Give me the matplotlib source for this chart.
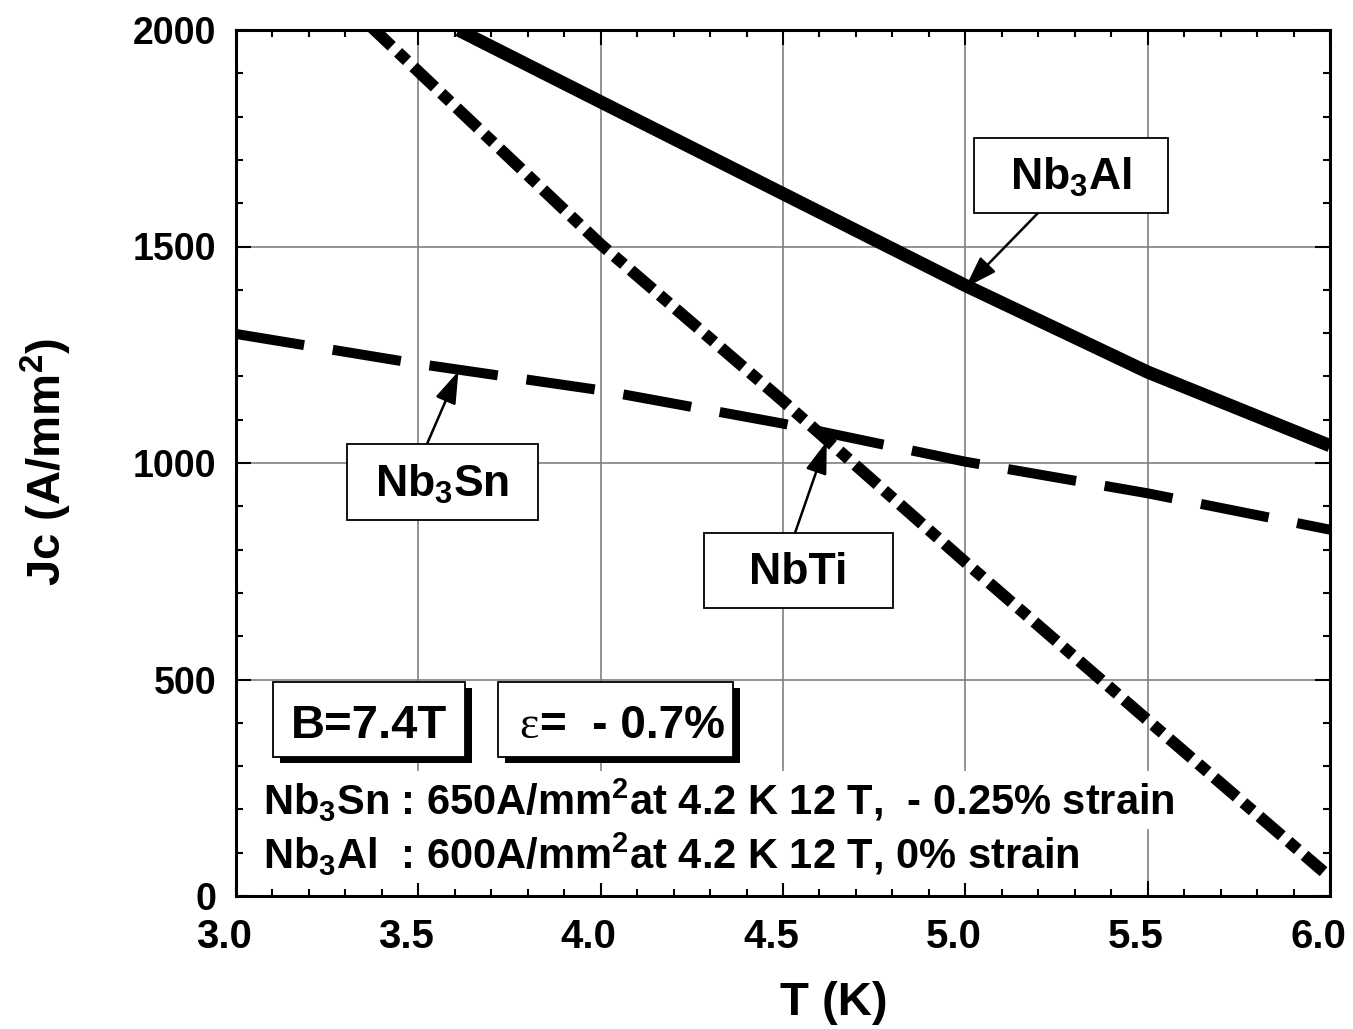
import matplotlib
matplotlib.use("Agg")
import matplotlib.pyplot as plt
import matplotlib.transforms as mtransforms
from matplotlib.patches import Rectangle
from matplotlib.ticker import MultipleLocator

# data
t_nb3al = [3.61, 4.0, 4.5, 5.0, 5.5, 6.0]
jc_nb3al = [2000, 1834, 1622, 1410, 1210, 1040]

t_nb3sn = [3.0, 3.5, 4.0, 4.5, 5.0, 5.5, 6.0]
jc_nb3sn = [1298, 1229, 1168, 1091, 1003, 930, 846]

t_nbti = [3.38, 4.0, 4.5, 5.0, 5.5, 5.97]
jc_nbti = [2000, 1505, 1143, 771, 406, 65]

x_ticks = [3.0, 3.5, 4.0, 4.5, 5.0, 5.5, 6.0]
x_labels = ["3.0", "3.5", "4.0", "4.5", "5.0", "5.5", "6.0"]
y_ticks = [0, 500, 1000, 1500, 2000]
y_labels = ["0", "500", "1000", "1500", "2000"]

SANS = "Liberation Sans"
plt.rcParams["font.family"] = [SANS, "DejaVu Sans"]
plt.rcParams["font.weight"] = "bold"
plt.rcParams["mathtext.fontset"] = "custom"
plt.rcParams["mathtext.rm"] = "Liberation Sans:bold"
plt.rcParams["mathtext.it"] = "Liberation Sans:bold"
plt.rcParams["mathtext.bf"] = "Liberation Sans:bold"
plt.rcParams["mathtext.default"] = "rm"

W, H = 1353, 1029
fig = plt.figure(figsize=(W / 100, H / 100), dpi=100)
ax = fig.add_axes([236 / W, 1 - 896 / H, (1330 - 236) / W, (896 - 30) / H])


def fpx(x, y):
    # pixel position -> figure fraction
    return x / W, 1 - y / H


# curves
ax.plot(t_nb3al, jc_nb3al, color="black", lw=9.5, solid_capstyle="butt", zorder=3)
ax.plot(t_nb3sn, jc_nb3sn, color="black", lw=7.2,
        linestyle=(0, (6.9, 2.9)), dash_capstyle="butt", zorder=3)
ax.plot(t_nbti, jc_nbti, color="black", lw=8.5,
        linestyle=(0, (1.5, 1.75, 0.04, 1.75)), dash_capstyle="projecting", zorder=3)

ax.set_xlim(3.0, 6.0)
ax.set_ylim(0, 2000)
ax.set_xticks(x_ticks)
ax.set_xticklabels(x_labels)
ax.set_yticks(y_ticks)
ax.set_yticklabels(y_labels)
ax.xaxis.set_minor_locator(MultipleLocator(0.1))
ax.yaxis.set_minor_locator(MultipleLocator(100))
ax.tick_params(which="both", direction="in", top=True, right=True, width=1.5)
ax.tick_params(which="major", length=11)
ax.tick_params(which="minor", length=5)
ax.tick_params(axis="x", pad=16, labelsize=29)
ax.tick_params(axis="y", pad=14, labelsize=27)
for lab in ax.get_xticklabels() + ax.get_yticklabels():
    lab.set_fontweight("bold")
# x labels sit a little left of their ticks in the original
shift = mtransforms.ScaledTranslation(-12 / 100, 0, fig.dpi_scale_trans)
for lab in ax.get_xticklabels():
    lab.set_transform(lab.get_transform() + shift)
for sp in ax.spines.values():
    sp.set_linewidth(2.2)
ax.grid(True, which="major", color="#808080", lw=1.2)
ax.set_axisbelow(True)

fig.text(*fpx(834, 1003), "T (K)", fontsize=34, fontweight="bold", ha="center", va="center")
fig.text(*fpx(46, 462), "Jc (A/mm$^2$)", fontsize=34, fontweight="bold",
         ha="center", va="center", rotation=90)


# labelled boxes with arrows
def label_box(x0, y0, x1, y1, text, tail, target):
    fig.add_artist(Rectangle(fpx(x0, y1), (x1 - x0) / W, (y1 - y0) / H,
                             transform=fig.transFigure, fc="white", ec="black", lw=1.3, zorder=4))
    fig.text(*fpx((x0 + x1) / 2, (y0 + y1) / 2 + 2), text, fontsize=32, fontweight="bold",
             ha="center", va="center", zorder=5)
    ax.annotate("", xy=target, xycoords="data", xytext=fpx(*tail), textcoords="figure fraction",
                arrowprops=dict(arrowstyle="-|>,head_length=0.9,head_width=0.3", color="black",
                                lw=1.8, mutation_scale=22, shrinkA=0, shrinkB=0), zorder=4)


label_box(974, 138, 1168, 213, "Nb$_3$Al", (1038, 213), (5.0, 1405))
label_box(347, 444, 538, 520, "Nb$_3$Sn", (427, 444), (3.61, 1212))
label_box(704, 533, 893, 608, "NbTi", (795, 533), (4.62, 1050))


# shadowed boxes
def shadow_box(x0, y0, x1, y1):
    fig.add_artist(Rectangle(fpx(x0 + 7, y1 + 6), (x1 - x0) / W, (y1 - y0) / H,
                             transform=fig.transFigure, fc="black", ec="black", lw=0, zorder=4))
    fig.add_artist(Rectangle(fpx(x0, y1), (x1 - x0) / W, (y1 - y0) / H,
                             transform=fig.transFigure, fc="white", ec="black", lw=1.3, zorder=4.5))


shadow_box(273, 682, 465, 757)
shadow_box(498, 682, 733, 757)
fig.text(*fpx(369, 738), "B=7.4T", fontsize=34, fontweight="bold", ha="center", va="baseline", zorder=5)
fig.text(*fpx(519, 738), "\u03b5", fontsize=33, family="Liberation Serif", fontweight="normal",
         ha="left", va="baseline", zorder=5)
fig.text(*fpx(540, 738), "=  - 0.7%", fontsize=33, fontweight="bold", ha="left", va="baseline", zorder=5)

# notes at bottom
wbox = dict(fc="white", ec="none", pad=4)
fig.text(*fpx(263, 815), "Nb$_3$Sn : 650A/mm$^2$at 4.2 K 12 T,  - 0.25% strain",
         fontsize=30, fontweight="bold", ha="left", va="baseline", bbox=wbox, zorder=2)
fig.text(*fpx(263, 869), "Nb$_3$Al  : 600A/mm$^2$at 4.2 K 12 T, 0% strain",
         fontsize=30, fontweight="bold", ha="left", va="baseline", bbox=wbox, zorder=2)

fig.savefig("out.png", dpi=100)
